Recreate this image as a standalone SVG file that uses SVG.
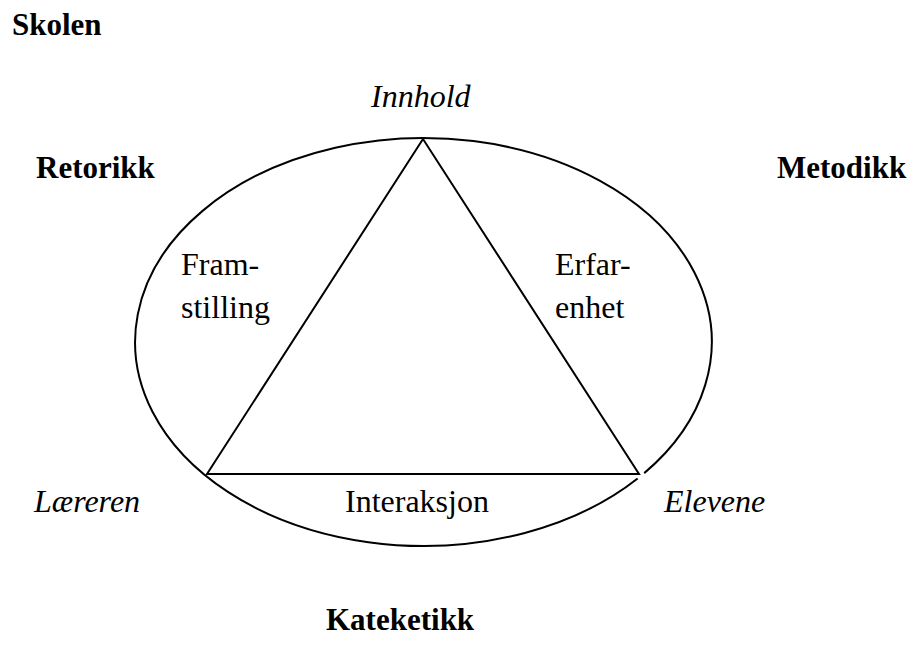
<svg xmlns="http://www.w3.org/2000/svg" width="914" height="659" viewBox="0 0 914 659">
<style>
text{font-family:"Liberation Serif","Times New Roman",serif;font-size:32px;fill:#000}
.b{font-weight:bold;font-size:31px}
.i{font-style:italic}
.ln{fill:none;stroke:#000;stroke-width:2}
</style>
<rect width="914" height="659" fill="#fff"/>
<g id="title"><text class="b" x="12" y="35">Skolen</text></g>
<g id="connectors">
<path class="ln" d="M 637.65 478.5 A 288.3 204 0 0 1 152.49 411.77 A 288.3 204 0 0 1 473.46 141.1 A 288.3 204 0 0 1 644.24 473.13"/>
<polygon class="ln" points="423,139 207,474 639,474"/>
</g>
<g id="innhold"><text class="i" x="371" y="107">Innhold</text></g>
<g id="retorikk"><text class="b" x="36" y="178">Retorikk</text></g>
<g id="metodikk"><text class="b" x="777" y="178">Metodikk</text></g>
<g id="framstilling"><text x="181" y="275">Fram-</text><text x="181" y="318">stilling</text></g>
<g id="erfarenhet"><text x="555" y="275">Erfar-</text><text x="555" y="318">enhet</text></g>
<g id="laereren"><text class="i" x="34" y="512">Læreren</text></g>
<g id="interaksjon"><text x="345" y="512">Interaksjon</text></g>
<g id="elevene"><text class="i" x="664" y="512">Elevene</text></g>
<g id="kateketikk"><text class="b" x="326" y="630">Kateketikk</text></g>
</svg>
